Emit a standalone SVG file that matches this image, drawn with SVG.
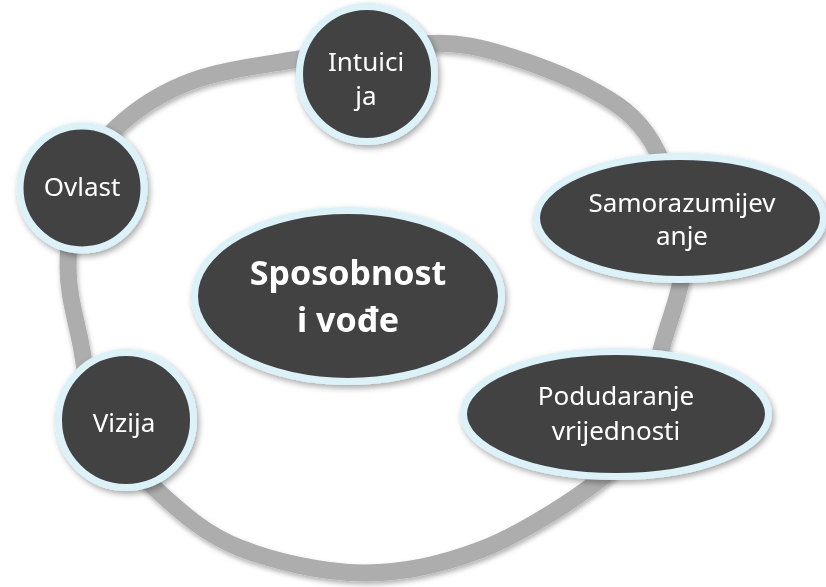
<svg xmlns="http://www.w3.org/2000/svg" width="826" height="587" viewBox="0 0 826 587">
  <defs>
    <filter id="sh" x="-20%" y="-20%" width="140%" height="140%">
      <feDropShadow dx="2" dy="3" stdDeviation="3" flood-color="#000" flood-opacity="0.35"/>
    </filter>
    <filter id="rsh" x="-10%" y="-10%" width="120%" height="120%">
      <feDropShadow dx="1" dy="3" stdDeviation="2.5" flood-color="#000" flood-opacity="0.3"/>
    </filter>
  </defs>
  <style>
    .ring { fill: none; stroke: #adadad; stroke-width: 17; }
    .node { fill: #434343; stroke: #daf2f8; stroke-width: 7; }
    .lbl { fill: #ffffff; font-family: "Noto Sans", "Open Sans", sans-serif; font-size: 26px; text-anchor: middle; }
    .title { fill: #ffffff; font-family: "Noto Sans", "Open Sans", sans-serif; font-size: 34px; font-weight: bold; text-anchor: middle; }
  </style>
  <rect width="826" height="587" fill="#ffffff"/>
  <g id="connectors">
    <path class="ring" filter="url(#rsh)" d="M470,46 C504.5,52.5 557,71.3 587,87 C617,102.7 636,115 652,142 C668,169 680.8,216.2 683,250 C685.2,283.8 671.8,311.3 663,343 C654.2,374.7 642.2,416 630,440 C617.8,464 615,468.7 590,487 C565,505.3 517.8,535.7 480,550 C442.2,564.3 403,573.3 363,573 C323,572.7 273.8,561.3 240,548 C206.2,534.7 183.3,514.3 160,493 C136.7,471.7 113.3,445.5 100,420 C86.7,394.5 85.3,365.5 80,340 C74.7,314.5 68,292.8 68,267 C68,241.2 71.8,208.3 80,185 C88.2,161.7 98.2,144.5 117,127 C135.8,109.5 162,92 192,81 C222,70 261.8,65.3 293,60 C324.2,54.7 350.5,50.3 380,48 C409.5,45.7 435.5,40 470,46 Z"/>
  </g>
  <g id="node-center" filter="url(#sh)">
    <ellipse class="node" cx="348" cy="296" rx="153.5" ry="85.5"/>
    <text class="title" x="348" y="285">Sposobnost</text>
    <text class="title" x="348" y="332">i vođe</text>
  </g>
  <g id="node-intuicija" filter="url(#sh)">
    <circle class="node" cx="367" cy="74" r="67.5"/>
    <text class="lbl" x="366" y="71">Intuici</text>
    <text class="lbl" x="366" y="105">ja</text>
  </g>
  <g id="node-ovlast" filter="url(#sh)">
    <circle class="node" cx="82" cy="188" r="62"/>
    <text class="lbl" x="82" y="196">Ovlast</text>
  </g>
  <g id="node-samorazumijevanje" filter="url(#sh)">
    <ellipse class="node" cx="680" cy="218" rx="143.5" ry="61.5"/>
    <text class="lbl" x="682" y="212">Samorazumijev</text>
    <text class="lbl" x="682" y="245">anje</text>
  </g>
  <g id="node-podudaranje" filter="url(#sh)">
    <ellipse class="node" cx="616" cy="414" rx="152.5" ry="62.5"/>
    <text class="lbl" x="616" y="405">Podudaranje</text>
    <text class="lbl" x="616" y="440">vrijednosti</text>
  </g>
  <g id="node-vizija" filter="url(#sh)">
    <circle class="node" cx="126" cy="420" r="67.5"/>
    <text class="lbl" x="124" y="432">Vizija</text>
  </g>
</svg>
